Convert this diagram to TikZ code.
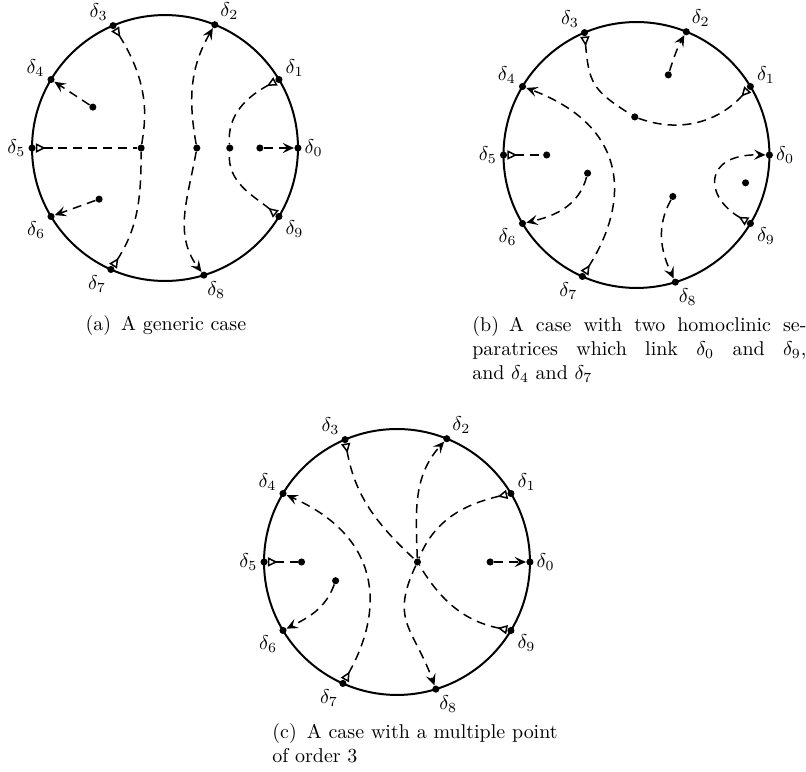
\documentclass[tikz,border=0pt]{standalone}
\usepackage{amsmath}
\usepackage{tikz}
\usetikzlibrary{arrows.meta}
\newcommand{\rdisk}{2.34}

\begin{document}
\begin{tikzpicture}[
    rim/.style={line width=1pt},
    sep/.style={dash pattern=on 4.5pt off 3pt, line width=0.75pt},
    pt/.style={circle, fill=black, inner sep=0pt, minimum size=1.25mm},
    lbl/.style={inner sep=1.2pt},
    tobd/.style={-{Stealth[length=2mm,width=1.8mm,inset=0.8mm]}},
    inw/.style={{Triangle[open,reversed,length=1.7mm,width=1.6mm]}-},
    homo/.style={{Triangle[open,reversed,length=1.7mm,width=1.6mm]}-{Stealth[length=2mm,width=1.8mm,inset=0.8mm]}},
    capt/.style={inner sep=0pt, align=justify}
]
\useasboundingbox (0,0) rectangle (14.186,-13.57);

% (a) generic case
\begin{scope}[shift={(2.904,-2.605)}]
\draw[rim] (0,0) circle (\rdisk);
\node[pt, label={[lbl]0:$\delta_0$}] (a0) at (0:\rdisk) {};
\node[pt, label={[lbl]10:$\delta_1$}] (a1) at (31:\rdisk) {};
\node[pt, label={[lbl]45:$\delta_2$}] (a2) at (68:\rdisk) {};
\node[pt, label={[lbl]135:$\delta_3$}] (a3) at (113:\rdisk) {};
\node[pt, label={[lbl]170:$\delta_4$}] (a4) at (149:\rdisk) {};
\node[pt, label={[lbl]180:$\delta_5$}] (a5) at (180:\rdisk) {};
\node[pt, label={[lbl]215:$\delta_6$}] (a6) at (211:\rdisk) {};
\node[pt, label={[lbl]235:$\delta_7$}] (a7) at (246:\rdisk) {};
\node[pt, label={[lbl]-80:$\delta_8$}] (a8) at (287:\rdisk) {};
\node[pt, label={[lbl]-15:$\delta_9$}] (a9) at (329:\rdisk) {};
\node[pt] (ap1) at (-1.27,0.72) {};
\node[pt] (ap2) at (-1.16,-0.90) {};
\node[pt] (ap3) at (-0.42,0) {};
\node[pt] (ap4) at (0.56,0) {};
\node[pt] (ap5) at (1.14,0) {};
\node[pt] (ap6) at (1.67,0) {};
\draw[sep, tobd] (ap6) -- (a0);
\draw[sep, inw] (a1) to[out=208,in=95] (ap5);
\draw[sep, inw] (a9) to[out=141,in=265] (ap5);
\draw[sep, tobd] (ap4) to[out=100,in=240] (a2);
\draw[sep, tobd] (ap4) to[out=260,in=127] (a8);
\draw[sep, inw] (a3) .. controls +(0.66,-1.05) and +(0.08,0.5) .. (ap3);
\draw[sep, inw] (a7) to[out=57,in=270] (ap3);
\draw[sep, inw] (a5) -- (ap3);
\draw[sep, tobd] (ap1) -- (a4);
\draw[sep, tobd] (ap2) -- (a6);
\end{scope}

% (b) two homoclinic separatrices
\begin{scope}[shift={(11.202,-2.728)}]
\draw[rim] (0,0) circle (\rdisk);
\node[pt, label={[lbl]0:$\delta_0$}] (b0) at (0:\rdisk) {};
\node[pt, label={[lbl]10:$\delta_1$}] (b1) at (31:\rdisk) {};
\node[pt, label={[lbl]45:$\delta_2$}] (b2) at (68:\rdisk) {};
\node[pt, label={[lbl]135:$\delta_3$}] (b3) at (113:\rdisk) {};
\node[pt, label={[lbl]170:$\delta_4$}] (b4) at (149:\rdisk) {};
\node[pt, label={[lbl]180:$\delta_5$}] (b5) at (180:\rdisk) {};
\node[pt, label={[lbl]215:$\delta_6$}] (b6) at (211:\rdisk) {};
\node[pt, label={[lbl]235:$\delta_7$}] (b7) at (246:\rdisk) {};
\node[pt, label={[lbl]-80:$\delta_8$}] (b8) at (287:\rdisk) {};
\node[pt, label={[lbl]-15:$\delta_9$}] (b9) at (329:\rdisk) {};
\node[pt] (bp1) at (0.56,1.41) {};
\node[pt] (bp2) at (-0.03,0.67) {};
\node[pt] (bp3) at (-1.58,0) {};
\node[pt] (bp4) at (-0.86,-0.32) {};
\node[pt] (bp5) at (0.64,-0.73) {};
\node[pt] (bp6) at (1.92,-0.49) {};
\draw[sep, tobd] (bp1) to[out=72,in=241] (b2);
\draw[sep, inw] (b3) to[out=275,in=148,looseness=1.3] (bp2);
\draw[sep, inw] (b1) to[out=228,in=340] (bp2);
\draw[sep, homo] (b7) .. controls +(0.85,1.34) and +(1.86,-0.7) .. (b4);
\draw[sep, inw] (b5) -- (bp3);
\draw[sep, tobd] (bp4) to[out=255,in=13] (b6);
\draw[sep, tobd] (bp5) to[out=241,in=115] (b8);
\draw[sep, homo] (b9) .. controls +(-0.81,0.46) and +(-1.19,0.02) .. (b0);
\end{scope}

% (c) multiple point of order 3
\begin{scope}[shift={(6.987,-9.891)}]
\draw[rim] (0,0) circle (\rdisk);
\node[pt, label={[lbl]0:$\delta_0$}] (c0) at (0:\rdisk) {};
\node[pt, label={[lbl]10:$\delta_1$}] (c1) at (31:\rdisk) {};
\node[pt, label={[lbl]45:$\delta_2$}] (c2) at (68:\rdisk) {};
\node[pt, label={[lbl]135:$\delta_3$}] (c3) at (113:\rdisk) {};
\node[pt, label={[lbl]170:$\delta_4$}] (c4) at (149:\rdisk) {};
\node[pt, label={[lbl]180:$\delta_5$}] (c5) at (180:\rdisk) {};
\node[pt, label={[lbl]215:$\delta_6$}] (c6) at (211:\rdisk) {};
\node[pt, label={[lbl]235:$\delta_7$}] (c7) at (246:\rdisk) {};
\node[pt, label={[lbl]-80:$\delta_8$}] (c8) at (287:\rdisk) {};
\node[pt, label={[lbl]-15:$\delta_9$}] (c9) at (329:\rdisk) {};
\node[pt] (cp1) at (-1.68,0) {};
\node[pt] (cp2) at (-1.08,-0.33) {};
\node[pt] (cp3) at (0.36,0) {};
\node[pt] (cp4) at (1.64,0) {};
\draw[sep, tobd] (cp4) -- (c0);
\draw[sep, inw] (c1) to[out=193,in=68] (cp3);
\draw[sep, tobd] (cp3) to[out=92,in=228] (c2);
\draw[sep, inw] (c3) to[out=280,in=137] (cp3);
\draw[sep, homo] (c7) .. controls +(0.75,1.34) and +(1.71,-0.76) .. (c4);
\draw[sep, inw] (c5) -- (cp1);
\draw[sep, tobd] (cp2) to[out=250,in=27] (c6);
\draw[sep, tobd] (cp3) to[out=245,in=110,looseness=1.3] (c8);
\draw[sep, inw] (c9) to[out=169,in=-59] (cp3);
\end{scope}

% captions
\node[capt, anchor=base] (capa) at (2.92,-5.81) {(a)\enspace A generic case};
\node[capt, anchor=north west, text width=5.88cm] (capb) at (8.307,-5.57)
  {(b)\enspace A case with two homoclinic se-\linebreak paratrices which link $\delta_0$ and $\delta_9$,\linebreak and $\delta_4$ and $\delta_7$};
\node[capt, anchor=north west, text width=5.02cm] (capc) at (4.787,-12.73)
  {(c)\enspace A case with a multiple point\linebreak of order 3};
\end{tikzpicture}
\end{document}
